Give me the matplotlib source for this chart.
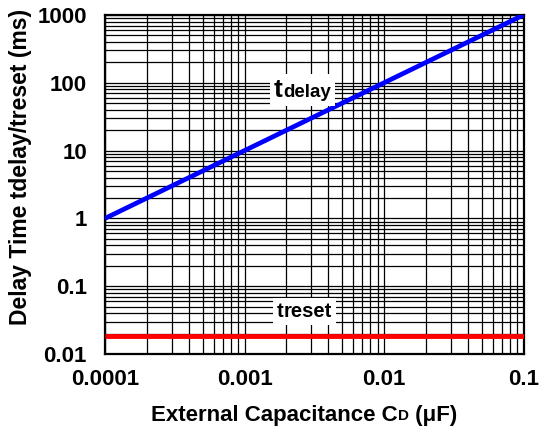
import matplotlib
matplotlib.use('Agg')
import matplotlib.pyplot as plt
from matplotlib.ticker import FixedLocator, FixedFormatter, LogLocator, NullFormatter
from matplotlib.offsetbox import TextArea, HPacker, AnnotationBbox

plt.rcParams['font.family'] = ['Liberation Sans', 'DejaVu Sans']
plt.rcParams['font.weight'] = 'bold'

# data
cap = [1e-4, 1e-1]          # external capacitance CD (uF)
t_delay = [1, 1000]         # ms
t_reset = [0.0185, 0.0185]  # ms

x_ticks = [1e-4, 1e-3, 1e-2, 1e-1]
x_labels = ['0.0001', '0.001', '0.01', '0.1']
y_ticks = [0.01, 0.1, 1, 10, 100, 1000]
y_labels = ['0.01', '0.1', '1', '10', '100', '1000']

W, H = 541, 434
fig = plt.figure(figsize=(W / 100, H / 100), dpi=100)
ax = fig.add_axes([105 / W, 80 / H, 418.5 / W, 339 / H])
ax.set_xscale('log')
ax.set_yscale('log')
ax.set_xlim(1e-4, 1e-1)
ax.set_ylim(0.01, 1000)

ax.xaxis.set_major_locator(FixedLocator(x_ticks))
ax.xaxis.set_major_formatter(FixedFormatter(x_labels))
ax.yaxis.set_major_locator(FixedLocator(y_ticks))
ax.yaxis.set_major_formatter(FixedFormatter(y_labels))
ax.xaxis.set_minor_locator(LogLocator(base=10, subs=range(2, 10)))
ax.yaxis.set_minor_locator(LogLocator(base=10, subs=range(2, 10)))
ax.xaxis.set_minor_formatter(NullFormatter())
ax.yaxis.set_minor_formatter(NullFormatter())
ax.tick_params(which='both', length=0, labelsize=16)
ax.tick_params(axis='x', pad=11)
ax.tick_params(axis='y', pad=13)
ax.grid(which='both', color='black', linewidth=0.9)
for s in ax.spines.values():
    s.set_linewidth(1.6)

ax.plot(cap, t_delay, color='#0000ff', linewidth=3.4, solid_capstyle='butt', zorder=3)
ax.plot(cap, t_reset, color='#ff0000', linewidth=3.5, solid_capstyle='butt', zorder=3)


def packed(parts):
    return HPacker(children=[TextArea(s, textprops=dict(fontsize=fs, color='black', fontweight='bold'))
                             for s, fs in parts],
                   align='baseline', pad=0, sep=0)


for parts, xy in [([('t', 19), ('delay', 13.5)], (0.0026, 78)),
                  ([('t', 14.5), ('reset', 14.5)], (0.0027, 0.042))]:
    ab = AnnotationBbox(packed(parts), xy, xycoords='data', frameon=True, pad=0.3,
                        bboxprops=dict(fc='white', ec='none'), zorder=4)
    ax.add_artist(ab)

# x label
ab = AnnotationBbox(packed([('External Capacitance C', 16), ('D', 11), (' (\u03bcF)', 16)]),
                    (304, H - 415), xycoords='figure pixels', frameon=False)
fig.add_artist(ab)

# y label
fig.text(21 / W, (H - 166.5) / H, 'Delay Time tdelay/treset (ms)', fontsize=16.5,
         fontweight='bold', rotation=90, ha='center', va='center')

fig.savefig('out.png', dpi=100)
